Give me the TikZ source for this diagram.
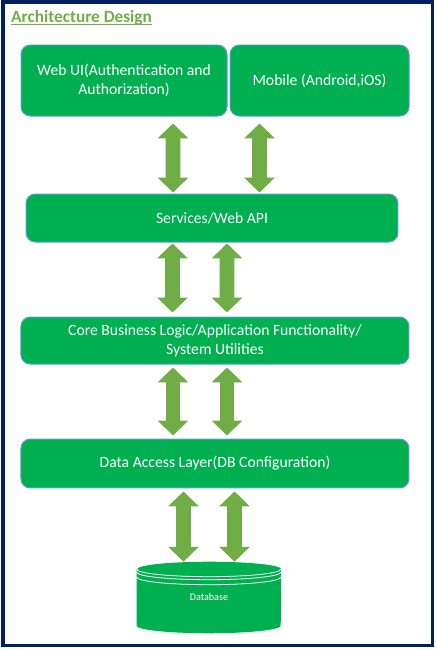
\documentclass[tikz,border=0pt]{standalone}
\usepackage{fontspec}
\setmainfont{Carlito}
\usepackage{xcolor}
\definecolor{boxgreen}{HTML}{00B050}
\definecolor{arrowgreen}{HTML}{70AD47}
\definecolor{framenavy}{HTML}{002060}
\definecolor{edgeblue}{HTML}{5B9BD5}
\usepackage{tikz}
\usetikzlibrary{arrows.meta, positioning, backgrounds}

\begin{document}
\begin{tikzpicture}[
        node distance=3.5cm,
        auto,
        block/.style={rectangle, draw=edgeblue, line width=0.75pt, fill=boxgreen, text=white, align=center, rounded corners=7pt, inner sep=0pt, font=\fontsize{11.8}{14.5}\selectfont},
        link/.style={draw=arrowgreen, line width=11.25pt, {Triangle[width=22.5pt,length=11.25pt]}-{Triangle[width=22.5pt,length=11.25pt]}},
        heading/.style={inner sep=0pt, anchor=base west, text=arrowgreen, font=\fontsize{13}{15}\selectfont\bfseries}
    ]
        % Page size and frame
        \useasboundingbox (0,0) rectangle (11.536,-17.171);
        \draw [framenavy, line width=2.8pt] (0.079,-0.053) rectangle (11.443,-17.079);

        % Heading (underlined)
        \node [heading] (head) at (0.29,-0.6) {Architecture Design};
        \draw [arrowgreen, line width=0.8pt] ([yshift=-1.3pt]head.base west) -- ([yshift=-1.3pt]head.base east);

        % Layers: clients -> services -> core -> data access
        \node [block, minimum width=5.450cm, minimum height=1.879cm] (webui) at (3.281,-2.130) {Web UI(Authentication and \\ Authorization)};
        \node [block, node distance=5.173cm, right of=webui, minimum width=4.736cm, minimum height=1.879cm] (mobile) {Mobile (Android,iOS)};
        \node [block, node distance=3.638cm, below of=webui, xshift=2.328cm, minimum width=9.842cm, minimum height=1.270cm] (services) {Services/Web API};
        \node [block, node distance=3.241cm, below of=services, xshift=0.079cm, minimum width=10.266cm, minimum height=1.244cm] (core) {Core Business Logic/Application Functionality/ \\ System Utilities};
        \node [block, node distance=3.254cm, below of=core, minimum width=10.266cm, minimum height=1.296cm] (dal) {Data Access Layer(DB Configuration)};

        % Database (cylinder drawn behind the label)
        \node [node distance=3.545cm, below of=dal, xshift=-0.159cm, minimum width=3.810cm, minimum height=1.879cm, inner sep=0pt, text=white, font=\fontsize{7.6}{9}\selectfont] (db) {Database};
        \begin{scope}[on background layer]
            \fill [boxgreen] ([yshift=-0.198cm]db.north west) -- ([yshift=0.198cm]db.south west)
                arc [start angle=180, end angle=360, x radius=1.905cm, y radius=0.198cm]
                -- ([yshift=-0.198cm]db.north east)
                arc [start angle=0, end angle=180, x radius=1.905cm, y radius=0.198cm] -- cycle;
        \end{scope}
        \foreach \dy in {0.198, 0.278, 0.410}
            \draw [white, line width=0.6pt] ([yshift=-\dy cm]db.north west) arc [start angle=180, end angle=360, x radius=1.905cm, y radius=0.198cm];

        % Connections
        % Web UI / Mobile <-> Services
        \draw [link] ([xshift=1.296cm, yshift=-0.185cm]webui.south) -- ([xshift=-1.032cm, yshift=0.026cm]services.north);
        \draw [link] ([xshift=-1.587cm, yshift=-0.185cm]mobile.south) -- ([xshift=1.257cm, yshift=0.026cm]services.north);
        % Services <-> Core
        \draw [link] ([xshift=-1.045cm, yshift=-0.026cm]services.south) -- ([xshift=-1.124cm, yshift=0.106cm]core.north);
        \draw [link] ([xshift=0.397cm, yshift=-0.026cm]services.south) -- ([xshift=0.318cm, yshift=0.106cm]core.north);
        % Core <-> Data Access
        \draw [link] ([xshift=-1.111cm, yshift=-0.079cm]core.south) -- ([xshift=-1.111cm, yshift=0.079cm]dal.north);
        \draw [link] ([xshift=0.318cm, yshift=-0.079cm]core.south) -- ([xshift=0.318cm, yshift=0.079cm]dal.north);
        % Data Access <-> Database
        \draw [link] ([xshift=-0.833cm, yshift=-0.079cm]dal.south) -- ([xshift=-0.675cm]db.north);
        \draw [link] ([xshift=0.516cm, yshift=-0.079cm]dal.south) -- ([xshift=0.675cm]db.north);

    \end{tikzpicture}
\end{document}
